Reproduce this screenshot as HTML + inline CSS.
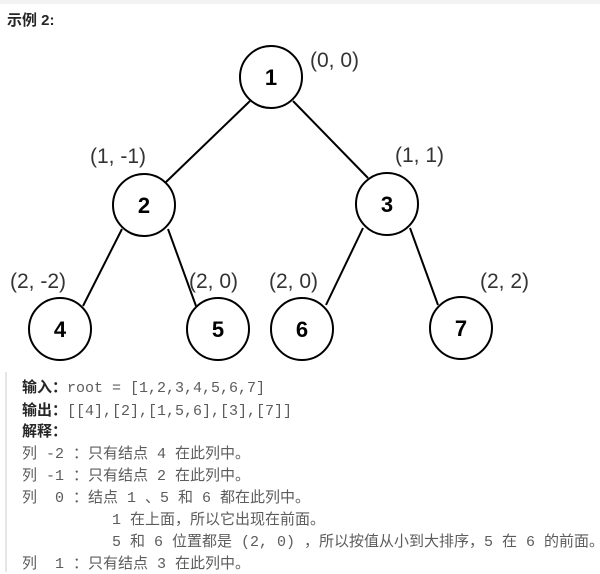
<!DOCTYPE html>
<html><head><meta charset="utf-8"><style>
body{margin:0;width:600px;height:572px;background:#fff;overflow:hidden;position:relative;font-family:"Liberation Sans","Noto Sans CJK SC",sans-serif}
.top{position:absolute;left:0;top:0;width:600px;height:4px;background:#f3f3f3}
.title{position:absolute;left:7px;top:9px;font-size:15px;font-weight:bold;color:#262626}
svg{position:absolute;left:0;top:0}
.pre{position:absolute;left:5px;top:372px;width:595px;height:200px;border-left:2px solid #e6e6e6;font-family:"Liberation Mono","Noto Sans CJK SC",monospace;font-size:15px;color:#5c5c5c}
.pre div{position:absolute;left:15px;white-space:pre;line-height:18px}
b{color:#262626;font-size:15px;font-family:"Liberation Sans","Noto Sans CJK SC",sans-serif}
</style></head><body>
<div class="top"></div>
<div class="title">示例 2:</div>
<svg width="600" height="372" font-family="Liberation Sans, Arial, sans-serif">
<g stroke="#000" stroke-width="2" fill="none">
<line x1="250" y1="101" x2="166" y2="182"/>
<line x1="293" y1="101" x2="368" y2="178"/>
<line x1="122" y1="229" x2="83" y2="306"/>
<line x1="168" y1="229" x2="196" y2="306"/>
<line x1="363" y1="228" x2="326" y2="305"/>
<line x1="410" y1="228" x2="438" y2="305"/>
</g>
<g stroke="#000" stroke-width="2" fill="#fff">
<circle cx="271" cy="77" r="31"/>
<circle cx="144" cy="205" r="31"/>
<circle cx="387" cy="204" r="31"/>
<circle cx="60" cy="329" r="31"/>
<circle cx="218" cy="329" r="31"/>
<circle cx="302" cy="329" r="31"/>
<circle cx="461" cy="328" r="31"/>
</g>
<g font-size="22" font-weight="bold" text-anchor="middle" fill="#000">
<text x="271" y="85">1</text><text x="144" y="213">2</text><text x="387" y="212">3</text>
<text x="60" y="337">4</text><text x="218" y="337">5</text><text x="302" y="337">6</text><text x="461" y="336">7</text>
</g>
<g font-size="21" fill="#333">
<text x="310" y="67">(0, 0)</text>
<text x="90" y="163">(1, -1)</text>
<text x="395" y="162">(1, 1)</text>
<text x="10" y="288">(2, -2)</text>
<text x="189" y="288">(2, 0)</text>
<text x="269" y="288">(2, 0)</text>
<text x="480" y="288">(2, 2)</text>
</g>
</svg>
<div class="pre">
<div style="top:7px"><b>输入：</b>root = [1,2,3,4,5,6,7]</div>
<div style="top:30px"><b>输出：</b>[[4],[2],[1,5,6],[3],[7]]</div>
<div style="top:51px"><b>解释：</b></div>
<div style="top:74px">列 -2 ：只有结点 4 在此列中。</div>
<div style="top:96px">列 -1 ：只有结点 2 在此列中。</div>
<div style="top:118px">列  0 ：结点 1 、5 和 6 都在此列中。</div>
<div style="top:140px">          1 在上面，所以它出现在前面。</div>
<div style="top:162px">          5 和 6 位置都是 (2, 0) ，所以按值从小到大排序，5 在 6 的前面。</div>
<div style="top:184px">列  1 ：只有结点 3 在此列中。</div>
</div>
</body></html>
